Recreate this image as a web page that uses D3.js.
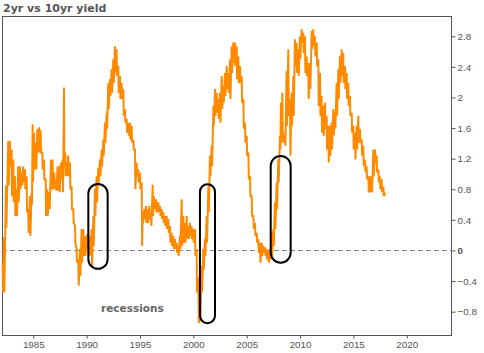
<!DOCTYPE html>
<html lang="en">
<head>
<meta charset="UTF-8">
<title>2yr vs 10yr yield</title>
<script src="https://d3js.org/d3.v7.min.js"></script>
<style>
  body { margin: 0; background: #fff; }
  svg { display: block; font-family: "DejaVu Sans", Verdana, sans-serif; }
  .axis text { fill: #555; font-size: 9.8px; }
  .axis path, .axis line { stroke: #555; }
</style>
</head>
<body>
<svg width="484" height="353"></svg>
<script>
// spread (10yr - 2yr): for each date the upper and lower edge of the noisy trace
const years = [1982.13,1982.25,1982.44,1982.66,1982.81,1982.97,1983.13,1983.28,1983.44,1983.59,1983.75,1983.91,1984.06,1984.22,1984.38,1984.53,1984.69,1984.84,1984.94,
  1985.06,1985.25,1985.38,1985.56,1985.69,1985.84,1986.00,1986.16,1986.31,1986.50,1986.66,1986.81,1986.97,1987.13,1987.28,1987.44,1987.59,1987.75,1987.88,
  1988.00,1988.13,1988.28,1988.44,1988.59,1988.75,1988.91,1989.06,1989.22,1989.38,1989.53,1989.69,1989.84,1990.06,1990.25,1990.47,1990.63,1990.78,1990.94,
  1991.09,1991.25,1991.41,1991.56,1991.72,1991.88,1992.03,1992.19,1992.34,1992.50,1992.66,1992.81,1992.97,1993.13,1993.28,1993.44,1993.59,1993.75,1993.91,
  1994.06,1994.22,1994.38,1994.53,1994.69,1994.84,1995.00,1995.16,1995.25,1995.41,1995.56,1995.72,1995.88,1996.03,1996.19,1996.31,1996.50,1996.72,1996.88,
  1997.03,1997.19,1997.34,1997.50,1997.66,1997.81,1997.97,1998.13,1998.28,1998.44,1998.59,1998.75,1998.91,1999.06,1999.22,1999.38,1999.53,1999.69,1999.84,
  2000.00,2000.16,2000.31,2000.47,2000.63,2000.78,2000.94,2001.09,2001.25,2001.41,2001.56,2001.72,2001.88,2002.03,2002.19,2002.34,2002.50,2002.66,2002.81,
  2002.97,2003.13,2003.28,2003.44,2003.59,2003.75,2003.91,2004.06,2004.22,2004.38,2004.53,2004.69,2004.84,2005.00,2005.16,2005.31,2005.47,2005.63,2005.78,
  2005.94,2006.09,2006.25,2006.41,2006.56,2006.72,2006.88,2007.03,2007.19,2007.34,2007.50,2007.65,2007.81,2007.96,2008.12,2008.21,2008.34,2008.43,2008.59,
  2008.74,2008.90,2009.06,2009.21,2009.37,2009.52,2009.68,2009.84,2009.99,2010.15,2010.31,2010.46,2010.62,2010.77,2010.93,2011.09,2011.24,2011.40,2011.56,
  2011.71,2011.87,2012.02,2012.18,2012.34,2012.49,2012.65,2012.80,2012.96,2013.12,2013.27,2013.43,2013.59,2013.74,2013.90,2014.05,2014.21,2014.37,2014.52,
  2014.68,2014.84,2014.99,2015.15,2015.31,2015.46,2015.62,2015.78,2015.93,2016.09,2016.24,2016.40,2016.56,2016.71,2016.87,2017.03,2017.18,2017.34,2017.49,
  2017.65,2017.81,2017.90];
const spreadHigh = [-0.16,0.17,0.85,1.43,1.43,1.32,1.19,0.97,0.80,1.10,1.10,1.02,1.10,1.06,0.97,0.54,0.71,0.75,1.65,
  1.54,1.41,1.59,1.61,1.57,1.28,1.19,0.93,0.80,0.76,1.19,1.19,1.02,0.93,1.10,1.10,1.15,1.19,2.13,
  1.28,1.15,1.24,1.15,0.84,0.54,0.32,0.02,-0.12,0.02,0.28,0.28,0.19,0.21,0.19,0.28,0.45,0.80,0.97,
  1.08,1.19,1.32,1.45,1.67,1.80,2.19,2.24,2.37,2.50,2.67,2.63,2.41,2.28,2.19,2.11,1.85,1.72,1.67,
  1.67,1.63,1.45,1.32,1.15,1.06,1.02,0.89,0.50,0.54,0.58,0.54,0.58,0.45,0.86,0.71,0.67,0.63,0.58,
  0.54,0.50,0.45,0.45,0.41,0.32,0.23,0.19,0.15,0.10,0.06,0.19,0.67,0.45,0.36,0.45,0.32,0.36,0.32,
  0.28,0.28,0.02,-0.35,-0.40,-0.20,0.02,0.15,0.45,0.84,1.24,1.37,1.89,2.11,2.06,1.98,2.06,2.28,2.15,
  2.32,2.41,2.32,2.50,2.67,2.72,2.72,2.67,2.54,2.41,2.28,1.98,1.67,1.50,1.28,0.97,0.71,0.45,0.36,
  0.23,0.15,0.10,0.10,0.06,0.04,0.02,-0.01,0.02,0.23,0.28,0.63,0.89,1.19,1.50,1.93,2.06,1.54,1.50,
  2.35,2.63,1.98,2.06,2.28,2.76,2.72,2.63,2.80,2.89,2.85,2.80,2.54,2.45,2.45,2.87,2.89,2.80,2.72,
  2.50,2.32,2.02,1.89,1.93,1.76,1.63,1.63,1.67,1.85,1.80,2.19,2.37,2.54,2.63,2.58,2.41,2.32,2.19,
  2.02,1.80,1.63,1.54,1.63,1.76,1.59,1.45,1.37,1.19,1.10,0.97,0.97,0.97,1.32,1.32,1.24,1.06,0.97,
  0.93,0.84,0.76];
const spreadLow = [-0.55,-0.55,0.30,0.85,1.10,0.71,0.63,0.45,0.45,0.63,0.80,0.85,0.89,0.80,0.50,0.23,0.19,0.60,0.90,
  1.06,1.06,1.28,1.28,1.28,1.06,0.93,0.45,0.45,0.54,0.80,0.80,0.80,0.78,0.78,0.76,0.93,0.76,1.10,
  0.97,0.97,0.97,0.80,0.54,0.36,0.10,-0.16,-0.46,-0.33,-0.16,-0.07,-0.07,0.02,-0.07,-0.22,0.06,0.45,0.63,
  0.89,0.97,1.10,1.24,1.41,1.59,1.85,2.02,2.06,2.19,2.32,2.28,2.06,1.98,1.98,1.76,1.67,1.54,1.50,
  1.45,1.41,1.32,0.80,0.97,0.89,0.80,0.06,0.36,0.41,0.36,0.36,0.41,0.32,0.45,0.54,0.50,0.50,0.45,
  0.41,0.36,0.32,0.28,0.23,0.10,0.06,0.02,0.02,-0.03,-0.07,0.02,0.06,0.10,0.10,0.15,0.15,0.19,0.15,
  0.10,-0.07,-0.55,-0.95,-0.92,-0.55,-0.25,-0.07,0.10,0.50,0.97,1.10,1.63,1.76,1.80,1.72,1.67,1.85,1.93,
  2.02,2.11,2.06,1.98,2.32,2.45,2.41,2.24,2.19,2.19,1.93,1.59,1.41,1.24,0.93,0.71,0.45,0.28,0.19,
  0.10,-0.03,-0.16,-0.07,-0.03,-0.07,-0.12,-0.16,-0.12,-0.07,0.06,0.28,0.54,0.89,1.32,1.41,1.45,1.41,1.37,
  1.63,1.76,1.24,1.63,1.76,2.41,2.32,2.28,2.50,2.72,2.58,2.32,2.28,1.98,2.11,2.63,2.67,2.54,2.41,
  1.89,1.76,1.54,1.50,1.59,1.32,1.15,1.24,1.32,1.50,1.59,1.76,1.98,2.19,2.28,2.19,2.11,1.98,1.89,
  1.76,1.54,1.32,1.19,1.32,1.41,1.41,1.24,1.10,1.02,0.93,0.76,0.76,0.76,0.97,1.15,1.02,0.89,0.80,
  0.76,0.71,0.71];

const yTicks = [-0.8, -0.4, 0, 0.4, 0.8, 1.2, 1.6, 2, 2.4, 2.8];
const xTicks = [1985, 1990, 1995, 2000, 2005, 2010, 2015, 2020];

// recession marks: [start year, end year, top value, bottom value]
const recessions = [
  [1990.16, 1991.97, 0.87, -0.24],
  [2000.62, 2002.03, 0.865, -0.95],
  [2007.25, 2009.12, 1.235, -0.16]
];

const plot = { left: 2, top: 16, right: 452, bottom: 336 };

const svg = d3.select("svg");

const x = d3.scaleLinear().domain([1982.07, 2024.24]).range([plot.left, plot.right]);
const y = d3.scaleLinear().domain([-1.118, 3.065]).range([plot.bottom, plot.top]);

// title
svg.append("text")
    .attr("x", 3).attr("y", 12)
    .attr("fill", "#555")
    .style("font-size", "11px")
    .style("font-weight", "bold")
    .text("2yr vs 10yr yield");

// frame
svg.append("rect")
    .attr("x", plot.left + 0.5).attr("y", plot.top + 0.5)
    .attr("width", plot.right - plot.left - 1).attr("height", plot.bottom - plot.top - 1)
    .attr("fill", "none").attr("stroke", "#555").attr("stroke-width", 1);

// zero line
svg.append("line")
    .attr("x1", plot.left).attr("x2", plot.right)
    .attr("y1", Math.round(y(0)) + 0.5).attr("y2", Math.round(y(0)) + 0.5)
    .attr("stroke", "#888").attr("stroke-dasharray", "5,3");

// axes
const yAxis = svg.append("g")
    .attr("class", "axis")
    .attr("transform", `translate(${plot.right - 0.5},0)`)
    .call(d3.axisRight(y).tickValues(yTicks).tickSize(4).tickPadding(2).tickFormat(d => d3.format("")(d)));
yAxis.select(".domain").remove();
yAxis.selectAll("text").filter(d => d === 0).style("font-weight", "bold");

const xAxis = svg.append("g")
    .attr("class", "axis")
    .attr("transform", `translate(0,${plot.bottom - 0.5})`)
    .call(d3.axisBottom(x).tickValues(xTicks).tickSize(3).tickPadding(3).tickFormat(d3.format("d")));
xAxis.select(".domain").remove();

// series: zig-zag between upper and lower edge
const pts = [];
years.forEach((yr, i) => {
    pts.push([yr, spreadHigh[i]]);
    pts.push([yr + 0.04, spreadLow[i]]);
});

svg.append("path")
    .datum(pts)
    .attr("fill", "none")
    .attr("stroke", "#ff8a00")
    .attr("stroke-width", 2)
    .attr("stroke-linejoin", "miter")
    .attr("d", d3.line().x(d => x(d[0])).y(d => y(d[1])));

// recession ovals
svg.selectAll(".rec")
    .data(recessions)
    .enter().append("rect")
    .attr("class", "rec")
    .attr("x", d => x(d[0]))
    .attr("y", d => y(d[2]))
    .attr("width", d => x(d[1]) - x(d[0]))
    .attr("height", d => y(d[3]) - y(d[2]))
    .attr("rx", d => (x(d[1]) - x(d[0])) / 2)
    .attr("fill", "none")
    .attr("stroke", "#000")
    .attr("stroke-width", 2);

svg.append("text")
    .attr("x", 101).attr("y", 312)
    .attr("fill", "#666")
    .style("font-size", "10.5px")
    .style("font-weight", "bold")
    .text("recessions");
</script>
</body>
</html>
